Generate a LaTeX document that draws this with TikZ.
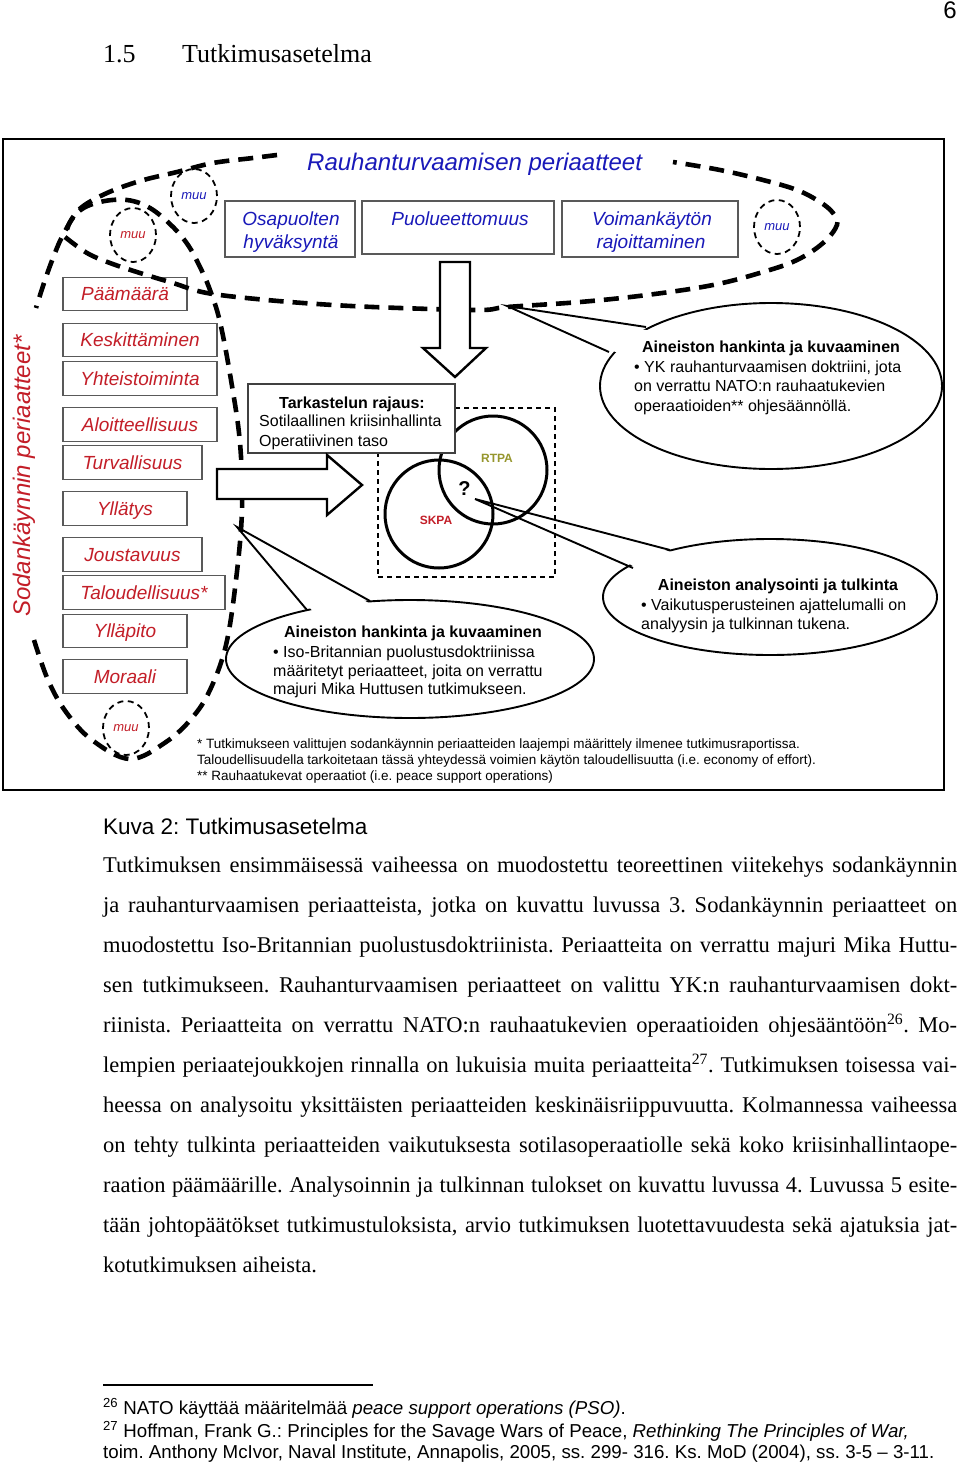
\documentclass[tikz,border=0pt]{standalone}
\usepackage{fontspec}
\setmainfont{Liberation Serif}
\setsansfont{Liberation Sans}
\newfontfamily\arial{Liberation Sans}
\usetikzlibrary{shapes.geometric,calc}
\definecolor{tblue}{RGB}{25,25,185}
\definecolor{tred}{RGB}{195,30,40}
\definecolor{tolive}{RGB}{150,150,45}
\begin{document}
\frenchspacing
\begin{tikzpicture}[x=1pt,y=-1pt,
  bigdash/.style={line width=4.6pt, dash pattern=on 15pt off 9pt},
  muucirc/.style={ellipse, draw, line width=1.8pt, dash pattern=on 6pt off 4.5pt, minimum width=46pt, minimum height=54pt, inner sep=0pt, font=\arial\itshape\fontsize{13}{13}\selectfont},
  pbox/.style={draw=black!65, line width=1.3pt, fill=white, inner sep=0pt},
  redbox/.style={pbox, text=tred, font=\arial\itshape\fontsize{19}{23}\selectfont, text height=13.7pt, text depth=0pt, minimum height=33.5pt},
  bluetxt/.style={text=tblue, font=\arial\itshape\fontsize{19}{23}\selectfont, inner sep=0pt},
  callell/.style={ellipse, draw, line width=1.9pt, fill=white, inner sep=0pt},
  calline/.style={line width=1.9pt, line join=miter},
  venn/.style={circle, draw, line width=3pt, inner sep=0pt, minimum size=108pt},
  blockarrow/.style={draw, line width=2.4pt, fill=white, line join=miter},
  ctitle/.style={font=\arial\bfseries\fontsize{16}{19}\selectfont, inner sep=0pt, anchor=base},
  ctext/.style={font=\arial\fontsize{16}{19}\selectfont, inner sep=0pt, anchor=base west},
  bodyline/.style={font=\fontsize{22.5}{40}\selectfont, inner sep=0pt, anchor=base west},
  fnote/.style={font=\arial\fontsize{13.5}{16}\selectfont, inner sep=0pt, anchor=base west},
  pfnote/.style={font=\arial\fontsize{18.7}{22}\selectfont, inner sep=0pt, anchor=base west},
]
\useasboundingbox (0,0) rectangle (960,1464);
\fill[white] (0,0) rectangle (960,1464);

% header
\node[font=\arial\fontsize{24}{24}\selectfont, anchor=base east, inner sep=0pt] (pnum) at (957,19) {6};
\node[font=\fontsize{26}{26}\selectfont, anchor=base west, inner sep=0pt] (secn) at (103,63) {1.5};
\node[font=\fontsize{26}{26}\selectfont, anchor=base west, inner sep=0pt] (sect) at (182,63) {Tutkimusasetelma};

% frame
\node[draw, line width=1.8pt, minimum width=941pt, minimum height=651pt, inner sep=0pt] (frame) at (473.5,464.5) {};

% top boxes
\node[pbox, minimum width=130pt, minimum height=56pt] (osap) at (290,229) {};
\node[bluetxt, anchor=base] (osapt1) at (291,225) {Osapuolten};
\node[bluetxt, anchor=base] (osapt2) at (291,248) {hyväksyntä};
\node[pbox, minimum width=192pt, minimum height=53pt] (puol) at (458,227.5) {};
\node[bluetxt, anchor=base] (puolt) at (460,225) {Puolueettomuus};
\node[pbox, minimum width=176pt, minimum height=56pt] (voim) at (650,229) {};
\node[bluetxt, anchor=base] (voimt1) at (652,225) {Voimankäytön};
\node[bluetxt, anchor=base] (voimt2) at (651,248) {rajoittaminen};
\node[bluetxt, font=\arial\itshape\fontsize{24}{24}\selectfont, anchor=base west] (rtitle) at (307,170) {Rauhanturvaamisen periaatteet};

% red boxes
\node[redbox, minimum width=124pt] (paam) at (125,294) {Päämäärä};
\node[redbox, minimum width=154pt] (kesk) at (140,340) {Keskittäminen};
\node[redbox, minimum width=154pt] (yhte) at (140,378.5) {Yhteistoiminta};
\node[redbox, minimum width=154pt] (aloi) at (140,424.5) {Aloitteellisuus};
\node[redbox, minimum width=139pt] (turv) at (132.5,462.5) {Turvallisuus};
\node[redbox, minimum width=124pt] (yllt) at (125,508.5) {Yllätys};
\node[redbox, minimum width=139pt] (jous) at (132.5,554.5) {Joustavuus};
\node[redbox, minimum width=162pt] (talo) at (144,592.5) {Taloudellisuus*};
\node[redbox, minimum width=124pt] (yllp) at (125,631) {Ylläpito};
\node[redbox, minimum width=124pt] (mora) at (125,676.5) {Moraali};
\node[text=tred, font=\arial\itshape\fontsize{24}{24}\selectfont, rotate=90, anchor=base, inner sep=0pt] (sodt) at (30,476) {Sodankäynnin periaatteet*};

% muu circles
\node[muucirc, text=tred] (muu1) at (133,235) {muu};
\node[muucirc, text=tblue] (muu2) at (194,196) {muu};
\node[muucirc, text=tblue] (muu3) at (777,227) {muu};
\node[muucirc, text=tred] (muu4) at (126,728) {muu};

% callout ellipses
\node[callell, minimum width=342pt, minimum height=166pt] (ell1) at (771,386) {};
\node[callell, minimum width=334pt, minimum height=116pt] (ell2) at (770,597) {};
\node[callell, minimum width=368pt, minimum height=118pt] (ell3) at (410,659) {};
\coordinate (a1) at (507,306); \coordinate (b1) at (646,327); \coordinate (c1) at (609,352);
\coordinate (a2) at (475,499); \coordinate (b2) at (670,550); \coordinate (c2) at (633,568);
\coordinate (a3) at (237,527); \coordinate (b3) at (307,610); \coordinate (c3) at (370,601);
\fill[white] (a1) -- ($(b1)!0.08!(ell1.center)$) -- ($(c1)!0.08!(ell1.center)$) -- cycle;
\fill[white] (a2) -- ($(b2)!0.08!(ell2.center)$) -- ($(c2)!0.08!(ell2.center)$) -- cycle;
\fill[white] (a3) -- ($(b3)!0.08!(ell3.center)$) -- ($(c3)!0.08!(ell3.center)$) -- cycle;

% venn
\node[draw, line width=1.5pt, dash pattern=on 5pt off 4pt, minimum width=177pt, minimum height=169pt, inner sep=0pt] (drect) at (466.5,492.5) {};
\node[venn] (crt) at (493,470) {};
\node[venn] (csk) at (439,514) {};
\node[text=tolive, font=\arial\bfseries\fontsize{12}{12}\selectfont, inner sep=0pt] (rtpa) at (497,458) {RTPA};
\node[text=tred, font=\arial\bfseries\fontsize{12}{12}\selectfont, inner sep=0pt] (skpa) at (436,520) {SKPA};
\node[font=\arial\bfseries\fontsize{20}{20}\selectfont, inner sep=0pt] (qm) at (464.5,489) {?};

% Tarkastelun box
\node[pbox, draw=black!75, minimum width=207pt, minimum height=69pt] (tark) at (351.5,418.5) {};
\node[ctitle] (tarkt) at (352,408) {Tarkastelun rajaus:};
\node[ctext] (tark1) at (259,426.5) {Sotilaallinen kriisinhallinta};
\node[ctext] (tark2) at (259,446) {Operatiivinen taso};

% big dashed loops
\draw[bigdash] plot[smooth, tension=0.6] coordinates {(277,155) (253,158) (213,163) (177,172) (140,181) (107,193) (82,207) (70,222) (65,237)};
\draw[bigdash] plot[smooth, tension=0.6] coordinates {(65,237) (87,253) (110,263) (140,273) (173,283) (207,293) (267,300) (333,305) (400,308) (480,310) (507,307) (580,302) (647,295) (713,285) (763,272) (797,260) (823,243) (837,225) (833,213) (820,202) (797,190) (763,180) (720,170) (673,162)};
\draw[bigdash] plot[smooth, tension=0.6] coordinates {(34,640) (48,680) (66,712) (92,740) (130,759) (166,742) (192,718) (210,690) (226,645) (236,580) (242,510) (240,443) (231,380) (220,322) (210,290) (200,267) (188,245) (172,226) (150,208) (127,200) (100,202) (78,212) (63,235) (53,258) (44,283) (36,308)};

% block arrows
\draw[blockarrow] (440,262) -- (470,262) -- (470,348) -- (486,348) -- (455,377) -- (423,348) -- (440,348) -- cycle;
\draw[blockarrow] (217,469) -- (327,469) -- (327,455) -- (362,485) -- (327,515) -- (327,499) -- (217,499) -- cycle;

% tails
\draw[calline] (b1) -- (a1) -- (c1);
\draw[calline] (b2) -- (a2) -- (c2);
\draw[calline] (b3) -- (a3) -- (c3);

% callout texts
\node[ctitle] (e1t) at (771,352) {Aineiston hankinta ja kuvaaminen};
\node[ctext] (e1a) at (634,372) {• YK rauhanturvaamisen doktriini, jota};
\node[ctext] (e1b) at (634,391.5) {on verrattu NATO:n rauhaatukevien};
\node[ctext] (e1c) at (634,411) {operaatioiden** ohjesäännöllä.};
\node[ctitle] (e2t) at (778,590) {Aineiston analysointi ja tulkinta};
\node[ctext] (e2a) at (641,610) {• Vaikutusperusteinen ajattelumalli on};
\node[ctext] (e2b) at (641,629) {analyysin ja tulkinnan tukena.};
\node[ctitle] (e3t) at (413,637) {Aineiston hankinta ja kuvaaminen};
\node[ctext] (e3a) at (273,657) {• Iso-Britannian puolustusdoktriinissa};
\node[ctext] (e3b) at (273,676) {määritetyt periaatteet, joita on verrattu};
\node[ctext] (e3c) at (273,694.5) {majuri Mika Huttusen tutkimukseen.};

% notes in frame
\node[fnote] (fn1) at (197,748) {* Tutkimukseen valittujen sodankäynnin periaatteiden laajempi määrittely ilmenee tutkimusraportissa.};
\node[fnote] (fn2) at (197,764) {Taloudellisuudella tarkoitetaan tässä yhteydessä voimien käytön taloudellisuutta (i.e. economy of effort).};
\node[fnote] (fn3) at (197,780) {** Rauhaatukevat operaatiot (i.e. peace support operations)};

% caption and body
\node[font=\arial\fontsize{22.5}{22.5}\selectfont, inner sep=0pt, anchor=base west] (kuva) at (103,834) {Kuva 2: Tutkimusasetelma};
\node[bodyline] (l1) at (103,872.5) {\makebox[854pt][s]{Tutkimuksen ensimmäisessä vaiheessa on muodostettu teoreettinen viitekehys sodankäynnin}};
\node[bodyline] (l2) at (103,912.5) {\makebox[854pt][s]{ja rauhanturvaamisen periaatteista, jotka on kuvattu luvussa 3. Sodankäynnin periaatteet on}};
\node[bodyline] (l3) at (103,952.5) {\makebox[854pt][s]{muodostettu Iso-Britannian puolustusdoktriinista. Periaatteita on verrattu majuri Mika Huttu-}};
\node[bodyline] (l4) at (103,992.5) {\makebox[854pt][s]{sen tutkimukseen. Rauhanturvaamisen periaatteet on valittu YK:n rauhanturvaamisen dokt-}};
\node[bodyline] (l5) at (103,1032.5) {\makebox[854pt][s]{riinista. Periaatteita on verrattu NATO:n rauhaatukevien operaatioiden ohjesääntöön\textsuperscript{26}. Mo-}};
\node[bodyline] (l6) at (103,1072.5) {\makebox[854pt][s]{lempien periaatejoukkojen rinnalla on lukuisia muita periaatteita\textsuperscript{27}. Tutkimuksen toisessa vai-}};
\node[bodyline] (l7) at (103,1112.5) {\makebox[854pt][s]{heessa on analysoitu yksittäisten periaatteiden keskinäisriippuvuutta. Kolmannessa vaiheessa}};
\node[bodyline] (l8) at (103,1152.5) {\makebox[854pt][s]{on tehty tulkinta periaatteiden vaikutuksesta sotilasoperaatiolle sekä koko kriisinhallintaope-}};
\node[bodyline] (l9) at (103,1192.5) {\makebox[854pt][s]{raation päämäärille. Analysoinnin ja tulkinnan tulokset on kuvattu luvussa 4. Luvussa 5 esite-}};
\node[bodyline] (l10) at (103,1232.5) {\makebox[854pt][s]{tään johtopäätökset tutkimustuloksista, arvio tutkimuksen luotettavuudesta sekä ajatuksia jat-}};
\node[bodyline] (l11) at (103,1272.5) {kotutkimuksen aiheista.};

% footnotes
\coordinate (rl) at (103,1385); \coordinate (rr) at (373,1385);
\draw[line width=1.3pt] (rl) -- (rr);
\node[pfnote] (pf1) at (103,1414) {\textsuperscript{26} NATO käyttää määritelmää \textit{peace support operations (PSO)}.};
\node[pfnote] (pf2) at (103,1437) {\textsuperscript{27} Hoffman, Frank G.: Principles for the Savage Wars of Peace, \textit{Rethinking The Principles of War,}};
\node[pfnote] (pf3) at (103,1458) {toim. Anthony McIvor, Naval Institute, Annapolis, 2005, ss. 299- 316. Ks. MoD (2004), ss. 3-5 – 3-11.};
\end{tikzpicture}
\end{document}
